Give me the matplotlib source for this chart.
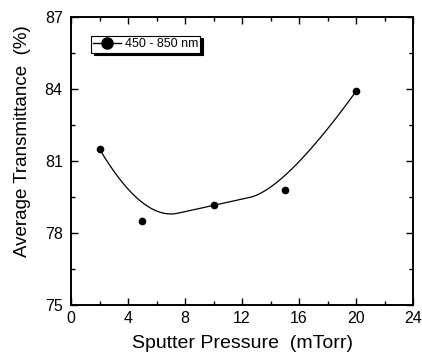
import numpy as np
import matplotlib
matplotlib.use("Agg")
import matplotlib.pyplot as plt
from matplotlib.ticker import MultipleLocator

pressure = [2, 5, 10, 15, 20]
transmittance = [81.5, 78.5, 79.15, 79.8, 83.9]
series_label = "450 - 850 nm"
x_ticks = [0, 4, 8, 12, 16, 20, 24]
y_ticks = [75, 78, 81, 84, 87]

plt.rcParams['font.family'] = ['Liberation Sans', 'DejaVu Sans']

def bspline(px, py, degree=2, n=300):
    px = np.asarray(px, float); py = np.asarray(py, float)
    m = len(px)
    inner = np.linspace(0, 1, m - degree + 1)
    knots = np.concatenate([[0] * degree, inner, [1] * degree])
    ts = np.linspace(0, 1, n)
    ts[-1] = 1 - 1e-12
    out_x, out_y = [], []
    for t in ts:
        N = np.zeros(len(knots) - 1)
        for i in range(len(knots) - 1):
            N[i] = 1.0 if knots[i] <= t < knots[i + 1] else 0.0
        for k in range(1, degree + 1):
            for i in range(len(knots) - k - 1):
                a = 0.0
                d1 = knots[i + k] - knots[i]
                if d1 > 0:
                    a += (t - knots[i]) / d1 * N[i]
                d2 = knots[i + k + 1] - knots[i + 1]
                if d2 > 0:
                    a += (knots[i + k + 1] - t) / d2 * N[i + 1]
                N[i] = a
        b = N[:m]
        out_x.append(np.dot(b, px)); out_y.append(np.dot(b, py))
    return np.array(out_x), np.array(out_y)

fig = plt.figure(figsize=(4.22, 3.58), dpi=100)
ax = fig.add_axes([71 / 422, 1 - 305 / 358, 342 / 422, 288 / 358])

cx, cy = bspline(pressure, transmittance)
ax.plot(cx, cy, color='black', lw=0.9)
ax.plot(pressure, transmittance, 'o', color='black', ms=4.5, ls='none')
ax.plot([], [], '-o', color='black', ms=8, lw=1.0, label=series_label)

ax.set_xlim(0, 24)
ax.set_ylim(75, 87)
ax.set_xticks(x_ticks)
ax.set_yticks(y_ticks)
ax.xaxis.set_minor_locator(MultipleLocator(2))
ax.yaxis.set_minor_locator(MultipleLocator(1.5))
ax.tick_params(which='both', direction='in', top=True, right=True, labelsize=11.5, width=1.0)
ax.tick_params(which='major', length=5)
ax.tick_params(which='minor', length=3)
ax.tick_params(axis='y', pad=6)
ax.tick_params(axis='x', pad=4)
for s in ax.spines.values():
    s.set_linewidth(1.4)

ax.set_xlabel("Sputter Pressure  (mTorr)", fontsize=14, labelpad=7)
ax.set_ylabel("Average Transmittance  (%)", fontsize=13.5)
ax.yaxis.set_label_coords(-0.118, 0.57)

leg = ax.legend(loc='upper left', bbox_to_anchor=(0.058, 0.935), fontsize=9,
                frameon=True, fancybox=False, shadow={'color': 'black', 'alpha': 1},
                edgecolor='black', borderpad=0.2, handlelength=2.2, handletextpad=0.3,
                borderaxespad=0)
leg.get_frame().set_linewidth(0.8)

fig.savefig("out.png", dpi=100)
